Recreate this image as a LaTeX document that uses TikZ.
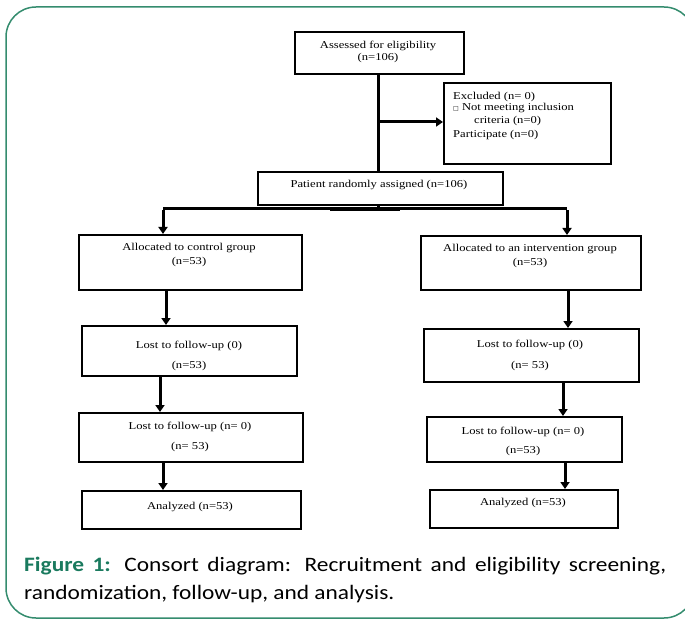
\documentclass[tikz,border=0pt]{standalone}
\usepackage{fontspec}
\setmainfont[FakeStretch=1.2]{Liberation Serif}
\newfontfamily\capfont[FakeStretch=1.14]{Carlito}
\newfontfamily\symfont{DejaVu Sans}
\usetikzlibrary{arrows.meta}
\definecolor{frame}{RGB}{52,140,110}
\definecolor{figgreen}{RGB}{26,122,94}
\tikzset{
  boxnode/.style={draw=black,line width=2pt,inner sep=0pt},
  txt/.style={inner sep=0pt,font=\fontsize{10.5}{12}\selectfont},
  conn/.style={line width=3pt},
  arr/.style={line width=3pt,-{Triangle[length=7pt,width=9pt]}}
}
\newcommand\mybox[5]{\node[boxnode,minimum width=#4pt-#2pt,minimum height=#5pt-#3pt,anchor=north west] (#1) at (#2,#3) {};}
\begin{document}
\begin{tikzpicture}[x=1pt,y=-1pt]
\useasboundingbox (0,0) rectangle (685,620);
\clip (0,0) rectangle (685,620);
\draw[frame,line width=1.5pt,rounded corners=30pt] (6,7) rectangle (694,618);
% boxes
\mybox{A}{294}{31}{463}{73}
\mybox{E}{443}{82}{610}{163}
\mybox{R}{257}{171}{502}{204}
\mybox{L1}{78}{234}{301}{289}
\mybox{R1}{420}{235}{640}{289}
\mybox{L2}{81}{325}{296}{375}
\mybox{R2}{423}{328}{638}{381}
\mybox{L3}{78}{412}{302}{461}
\mybox{R3}{426}{416}{621}{461}
\mybox{L4}{81}{490}{300}{528}
\mybox{R4}{429}{489}{617}{527}
% texts
\node[txt] (ta1) at (378,46) {Assessed for eligibility};
\node[txt] (ta2) at (378,58) {(n=106)};
\node[txt,anchor=west] (te1) at (453,97) {Excluded (n= 0)};
\node[txt,anchor=west] (te2) at (453,108) {{\symfont\fontsize{6}{7}\selectfont □} Not meeting inclusion};
\node[txt,anchor=west] (te3) at (474,121) {criteria (n=0)};
\node[txt,anchor=west] (te4) at (453,135) {Participate (n=0)};
\node[txt] (tr) at (379,185) {Patient randomly assigned (n=106)};
\node[txt] (tl1a) at (189,248) {Allocated to control group};
\node[txt] (tl1b) at (189,262) {(n=53)};
\node[txt] (tr1a) at (530,249) {Allocated to an intervention group};
\node[txt] (tr1b) at (530,263) {(n=53)};
\node[txt] (tl2a) at (189,346) {Lost to follow-up (0)};
\node[txt] (tl2b) at (189,366) {(n=53)};
\node[txt] (tr2a) at (530,345) {Lost to follow-up (0)};
\node[txt] (tr2b) at (530,366) {(n= 53)};
\node[txt] (tl3a) at (190,427) {Lost to follow-up (n= 0)};
\node[txt] (tl3b) at (190,447) {(n= 53)};
\node[txt] (tr3a) at (523,432) {Lost to follow-up (n= 0)};
\node[txt] (tr3b) at (523,451) {(n=53)};
\node[txt] (tl4) at (190,507) {Analyzed (n=53)};
\node[txt] (tr4) at (523,503) {Analyzed (n=53)};
% connectors
\coordinate (xa) at (378,0);
\coordinate (jb) at (0,122);
\coordinate (jr) at (0,209);
\coordinate (jl) at (163,209);
\coordinate (jrr) at (567,209);
\draw[conn] (A.south -| xa) -- (R.north -| xa);
\draw[arr] (xa |- jb) -- (E.west |- jb);
\draw[conn] (R.south -| xa) -- (xa |- jr);
\draw[conn] (jl) -- (jrr);
\draw[line width=4.5pt] (330,209) -- (400,209);
\draw[arr] ([yshift=-1.5pt]jl) -- (L1.north -| jl);
\draw[arr] ([yshift=-1.5pt]jrr) -- (R1.north -| jrr);
\coordinate (c1) at (166,0);
\coordinate (c2) at (160,0);
\coordinate (c3) at (163,0);
\coordinate (d1) at (568,0);
\coordinate (d2) at (563,0);
\coordinate (d3) at (565,0);
\draw[arr] (L1.south -| c1) -- (L2.north -| c1);
\draw[arr] (L2.south -| c2) -- (L3.north -| c2);
\draw[arr] (L3.south -| c3) -- (L4.north -| c3);
\draw[arr] (R1.south -| d1) -- (R2.north -| d1);
\draw[arr] (R2.south -| d2) -- (R3.north -| d2);
\draw[arr] (R3.south -| d3) -- (R4.north -| d3);
% caption
\node[anchor=north west,inner sep=0pt,text width=642pt,align=justify,font=\capfont\fontsize{20.5}{28}\selectfont] (cap) at (24,557) {\hyphenpenalty=10000 \exhyphenpenalty=10000 \emergencystretch=20pt {\bfseries\color{figgreen}Figure 1:} Consort diagram: Recruitment and eligibility screening, randomization, follow-up, and analysis.};
\end{tikzpicture}
\end{document}
